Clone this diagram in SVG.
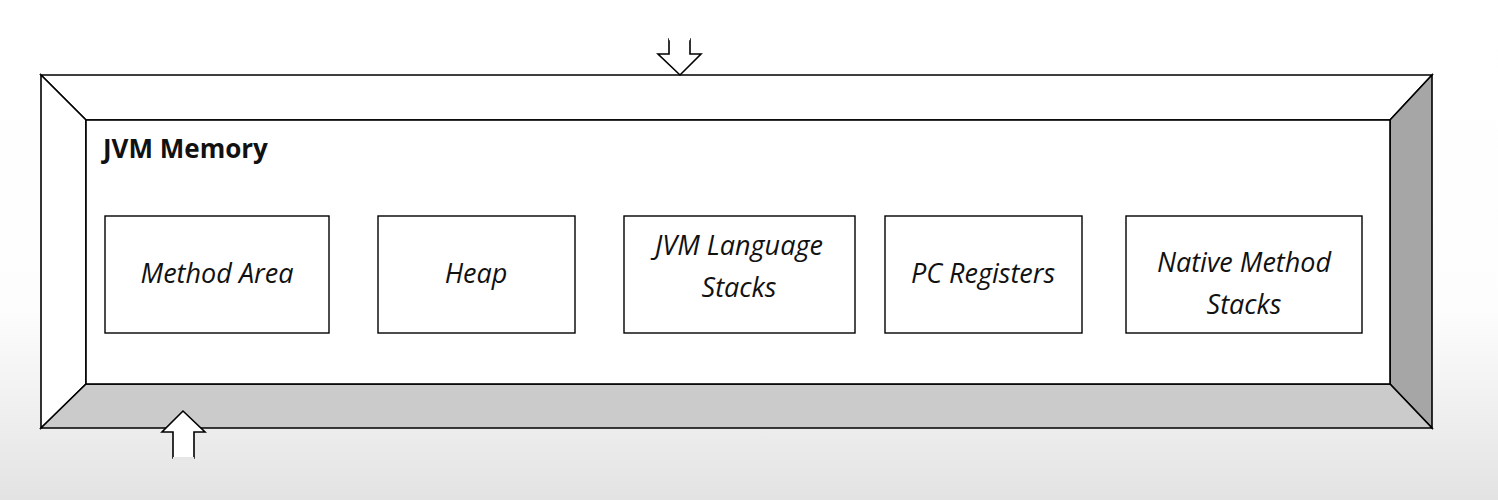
<svg xmlns="http://www.w3.org/2000/svg" width="1498" height="500" viewBox="0 0 1498 500">
<defs>
<linearGradient id="bg" x1="0" y1="0" x2="0" y2="1">
<stop offset="0" stop-color="#ffffff"/>
<stop offset="0.62" stop-color="#fdfdfd"/>
<stop offset="1" stop-color="#e3e3e3"/>
</linearGradient>
</defs>
<style>
.ln{stroke:#000;stroke-width:1.6;stroke-linejoin:miter}
.box{fill:#fff;stroke:#000;stroke-width:1.4}
.lbl{font-family:"Open Sans",sans-serif;font-style:italic;font-size:27px;fill:#111;text-anchor:middle}
.title{font-family:"Open Sans",sans-serif;font-weight:bold;font-size:26px;fill:#111}
.arr{fill:#fff;stroke:#000;stroke-width:1.6}
</style>
<rect x="0" y="0" width="1498" height="500" fill="url(#bg)"/>
<g id="frame">
<polygon class="ln" points="41,75 1432,75 1390,120 86,120" fill="#fff"/>
<polygon class="ln" points="41,75 86,120 86,384 41,428" fill="#fff"/>
<polygon class="ln" points="1432,75 1432,428 1390,384 1390,120" fill="#a6a6a6"/>
<polygon class="ln" points="41,428 86,384 1390,384 1432,428" fill="#cbcbcb"/>
<rect class="ln" x="86" y="120" width="1304" height="264" fill="#fff"/>
<text class="title" x="103" y="158">JVM Memory</text>
</g>
<g id="method-area">
<rect class="box" x="105" y="216" width="224" height="117"/>
<text class="lbl" x="217" y="283">Method Area</text>
</g>
<g id="heap">
<rect class="box" x="378" y="216" width="197" height="117"/>
<text class="lbl" x="476" y="283">Heap</text>
</g>
<g id="jvm-language-stacks">
<rect class="box" x="624" y="216" width="231" height="117"/>
<text class="lbl" x="739" y="255">JVM Language</text>
<text class="lbl" x="739" y="297">Stacks</text>
</g>
<g id="pc-registers">
<rect class="box" x="885" y="216" width="197" height="117"/>
<text class="lbl" x="983" y="283">PC Registers</text>
</g>
<g id="native-method-stacks">
<rect class="box" x="1126" y="216" width="236" height="117"/>
<text class="lbl" x="1244" y="272">Native Method</text>
<text class="lbl" x="1244" y="314">Stacks</text>
</g>
<g id="connectors">
<polygon class="arr" points="669,39 669,54 658,54 680,75 701,54 690,54 690,39"/>
<line x1="669" y1="39" x2="690" y2="39" stroke="#fff" stroke-width="2.5"/>
<polygon class="arr" points="173,458 173,432 162,432 183,411 205,432 194,432 194,458"/>
<line x1="173" y1="458.5" x2="194" y2="458.5" stroke="#e6e6e6" stroke-width="3"/>
</g>
</svg>
